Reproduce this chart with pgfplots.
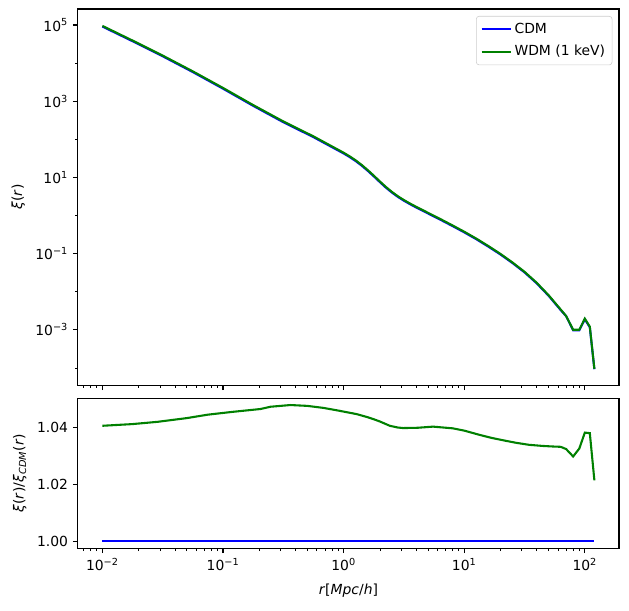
\documentclass[border=0pt]{standalone}
\usepackage{fontspec}
\setmainfont{DejaVu Sans}
\usepackage{pgfplots}
\pgfplotsset{compat=1.18}
\definecolor{mblue}{RGB}{0,0,255}
\definecolor{mgreen}{RGB}{0,128,0}
\begin{document}
\begin{tikzpicture}
\pgfplotsset{
  every axis/.append style={
    scale only axis, width=389.5pt,
    axis line style={line width=0.8pt},
    every tick/.append style={black},
    major tick style={line width=0.8pt},
    minor tick style={line width=0.6pt},
    tick align=outside, major tick length=3.5pt, minor tick length=2pt,
    xtick pos=bottom, ytick pos=left,
    xmode=log, xmin=0.00625, xmax=192,
    xtick={0.01,0.1,1,10,100},
    minor xtick={0.007,0.008,0.009,0.02,0.03,0.04,0.05,0.06,0.07,0.08,0.09,0.2,0.3,0.4,0.5,0.6,0.7,0.8,0.9,2,3,4,5,6,7,8,9,20,30,40,50,60,70,80,90},
    tick label style={font=\fontsize{10}{12}\selectfont},
    label style={font=\fontsize{10}{12}\selectfont},
  },
}
\begin{axis}[
  at={(0pt,117.4pt)}, anchor=south west, height=270.7pt,
  ymode=log, ymin=3.55e-5, ymax=2.63e5,
  ytick={1e-3,1e-1,10,1000,1e5},
  yticklabels={10\textsuperscript{−3},10\textsuperscript{−1},10\textsuperscript{1},10\textsuperscript{3},10\textsuperscript{5}},
  minor ytick={1e-4,1e-2,1,100,1e4},
  xticklabels={},
  ylabel={\textit{ξ}(\textit{r})},
  ylabel style={at={(axis description cs:-0.110,0.5)}, anchor=center},
  legend cell align=left,
  legend image code/.code={\draw[#1, line width=1.5pt] (0pt,0pt) -- (21pt,0pt);},
  legend style={at={(rel axis cs:1,1)}, anchor=north east, xshift=-4.8pt, yshift=-5pt,
    draw=black!20, rounded corners=2pt, fill=white, font=\fontsize{10}{12}\selectfont,
    row sep=3pt, inner xsep=3pt, inner ysep=3pt},
]
\addplot[mblue, line width=1.5pt] coordinates {
(0.01,91201) (0.017783,37584) (0.031623,15136) (0.056234,5821) (0.1,2138) (0.17783,758.6)
(0.31623,281.8) (0.56234,114.3) (1,42.66) (1.122,34.28) (1.2589,26.92) (1.4125,20.42)
(1.5849,14.96) (1.7783,10.72) (1.9953,7.586) (2.2387,5.433) (2.5119,4.027) (2.8184,3.090)
(3.1623,2.455) (3.5481,1.995) (3.9811,1.641) (5.0119,1.135) (6.3096,0.7852) (7.9433,0.5370)
(10,0.3631) (12.589,0.2399) (15.849,0.1531) (19.953,0.09550) (25.119,0.05689) (31.623,0.03236)
(39.811,0.01679) (50.119,0.007852) (63.096,0.003311) (70,0.002291)
(80,0.00098) (90,0.00098) (100,0.0019) (110,0.00117) (120,9.3e-5)
};
\addlegendentry{CDM}
\addplot[mgreen, line width=1.5pt] coordinates {
(0.01,94910) (0.017783,39136) (0.031623,15775) (0.056234,6077) (0.1,2234) (0.17783,793.6)
(0.31623,295.3) (0.56234,119.7) (1,44.61) (1.122,35.83) (1.2589,28.12) (1.4125,21.32)
(1.5849,15.61) (1.7783,11.18) (1.9953,7.906) (2.2387,5.658) (2.5119,4.192) (2.8184,3.214)
(3.1623,2.553) (3.5481,2.075) (3.9811,1.707) (5.0119,1.181) (6.3096,0.8168) (7.9433,0.5584)
(10,0.3773) (12.589,0.2490) (15.849,0.1588) (19.953,0.09894) (25.119,0.05888) (31.623,0.03347)
(39.811,0.01736) (50.119,0.008115) (63.096,0.003421) (70,0.002313)
(80,0.001009) (90,0.001012) (100,0.001973) (110,0.001215) (120,9.50e-5)
};
\addlegendentry{WDM (1 keV)}
\end{axis}
\begin{axis}[
  at={(0pt,0pt)}, anchor=south west, height=108pt,
  ymin=0.9976, ymax=1.0504,
  ytick={1,1.02,1.04}, yticklabels={1.00,1.02,1.04},
  xticklabels={10\textsuperscript{−2},10\textsuperscript{−1},10\textsuperscript{0},10\textsuperscript{1},10\textsuperscript{2}},
  xlabel={\textit{r}[\textit{Mpc}/\textit{h}]},
  xlabel style={at={(axis description cs:0.5,0)}, yshift=-30.7pt, anchor=center},
  ylabel={\textit{ξ}(\textit{r})/\textit{ξ}\textsubscript{\textit{CDM}}(\textit{r})},
  ylabel style={at={(axis description cs:-0.107,0.5)}, anchor=center},
]
\addplot[mblue, line width=1.5pt] coordinates {(0.01,1) (120,1)};
\addplot[mgreen, line width=1.5pt] coordinates {
(0.01,1.0407) (0.0178,1.0413) (0.02877,1.0421) (0.05,1.0434) (0.0745,1.0446) (0.12,1.0456)
(0.2046,1.0466) (0.2477,1.0474) (0.3622,1.0480) (0.501,1.0477) (0.6776,1.0470) (0.891,1.0461)
(1.285,1.0448) (1.585,1.0437) (1.778,1.0430) (2.0,1.0422) (2.415,1.0407) (2.8,1.0401)
(3.11,1.0399) (4.11,1.0400) (5.51,1.0404) (8.05,1.0398) (10,1.0390) (13.4,1.0375)
(17,1.0364) (22.2,1.0354) (27,1.0347) (34.5,1.0340) (45,1.0336) (55,1.0334) (63.1,1.0333)
(70,1.0325) (80,1.0299) (90,1.0327) (100,1.0383) (110,1.0381) (120,1.0215)
};
\end{axis}
\path[use as bounding box] (-56pt,-44.6pt) rectangle (396.7pt,394.6pt);
\end{tikzpicture}
\end{document}
